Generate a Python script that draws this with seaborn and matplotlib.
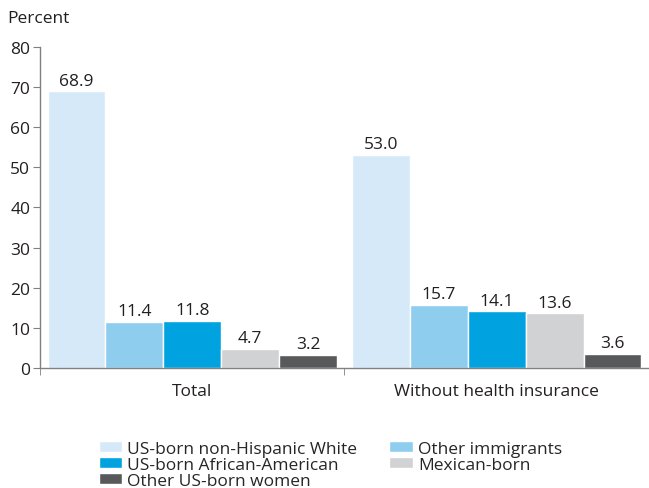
import pandas as pd
import matplotlib.pyplot as plt
import seaborn as sns

groups = ['Total', 'Without health insurance']
series = ['US-born non-Hispanic White', 'Other immigrants', 'US-born African-American',
          'Mexican-born', 'Other US-born women']
total_vals = [68.9, 11.4, 11.8, 4.7, 3.2]
uninsured_vals = [53.0, 15.7, 14.1, 13.6, 3.6]
colors = ['#d5e9f8', '#8fcdef', '#00a3e0', '#d1d2d4', '#58595b']

rows = []
for g, vals in zip(groups, [total_vals, uninsured_vals]):
    for s, v in zip(series, vals):
        rows.append({'group': g, 'series': s, 'value': v})
df = pd.DataFrame(rows)

sns.set_style('white')
plt.rcParams['font.family'] = ['Open Sans', 'DejaVu Sans']
fs = 12.5

fig = plt.figure(figsize=(6.49, 4.89), dpi=100)
ax = fig.add_axes([0.0616, 0.2454, 0.9384, 0.657])

sns.barplot(data=df, x='group', y='value', hue='series', hue_order=series,
            palette=colors, saturation=1, width=0.95, gap=0, ax=ax, legend=True)

for c in ax.containers:
    ax.bar_label(c, fmt='%.1f', padding=2, fontsize=fs, color='#231f20')

ax.set_ylim(0, 80)
ax.set_xlim(-0.5, 1.5)
ax.set_yticks(range(0, 81, 10))
ax.tick_params(axis='y', labelsize=fs, length=5, pad=2, color='#808080', left=True, labelcolor='#231f20')
ax.set_xticks([-0.5, 0.5, 1.5], minor=True)
ax.tick_params(axis='x', which='major', length=0, labelsize=fs, pad=11, labelcolor='#231f20')
ax.tick_params(axis='x', which='minor', length=5, color='#808080', bottom=True)
ax.set_xlabel('')
ax.set_ylabel('')
for side in ['top', 'right']:
    ax.spines[side].set_visible(False)
for side in ['left', 'bottom']:
    ax.spines[side].set_color('#808080')
    ax.spines[side].set_linewidth(1)

fig.text(0.011, 0.962, 'Percent', fontsize=fs, color='#231f20', va='center')

handles, labels = ax.get_legend_handles_labels()
order = [0, 2, 4, 1, 3]
ax.legend([handles[i] for i in order], [labels[i] for i in order],
          ncol=2, frameon=False, fontsize=fs, loc='upper left',
          bbox_to_anchor=(0.085, -0.205), handlelength=1.35, handleheight=0.55,
          labelspacing=0.0, columnspacing=1.85, handletextpad=0.3,
          borderaxespad=0)

fig.savefig('out.png', dpi=100)
